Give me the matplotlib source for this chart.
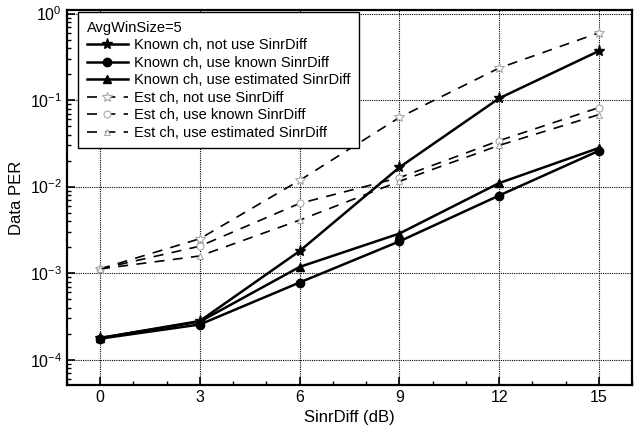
import matplotlib
matplotlib.use("Agg")
import matplotlib.pyplot as plt
from matplotlib.ticker import MultipleLocator, LogLocator, NullFormatter

plt.rcParams['font.family'] = ['Liberation Sans', 'DejaVu Sans']
plt.rcParams['mathtext.fontset'] = 'custom'
plt.rcParams['mathtext.rm'] = 'Liberation Sans'

sinr = [0, 3, 6, 9, 12, 15]
known_nouse = [1.78e-4, 2.8e-4, 1.8e-3, 1.67e-2, 0.105, 0.37]
known_known = [1.75e-4, 2.55e-4, 7.8e-4, 2.33e-3, 7.9e-3, 2.6e-2]
known_est = [1.78e-4, 2.75e-4, 1.18e-3, 2.87e-3, 1.1e-2, 2.8e-2]
est_nouse = [1.12e-3, 2.5e-3, 1.18e-2, 6.3e-2, 0.235, 0.6]
est_known = [1.12e-3, 2.05e-3, 6.4e-3, 1.27e-2, 3.4e-2, 8.2e-2]
est_est = [1.12e-3, 1.58e-3, 4.1e-3, 1.15e-2, 3.0e-2, 6.8e-2]
labels = ["Known ch, not use SinrDiff", "Known ch, use known SinrDiff",
          "Known ch, use estimated SinrDiff", "Est ch, not use SinrDiff",
          "Est ch, use known SinrDiff", "Est ch, use estimated SinrDiff"]
xticks = [0, 3, 6, 9, 12, 15]

fig = plt.figure(figsize=(6.36, 4.36), dpi=100)
ax = fig.add_axes([0.105, 0.117, 0.889, 0.860])

solid = dict(color='black', lw=1.8, ms=6, mfc='black', mec='black')
ax.plot(sinr, known_nouse, marker='*', label=labels[0], **{**solid, 'ms': 8})
ax.plot(sinr, known_known, marker='o', label=labels[1], **solid)
ax.plot(sinr, known_est, marker='^', label=labels[2], **solid)
dash = dict(color='black', lw=1.2, ls=(0, (6, 5)), ms=7, mfc='white', mec='#aaaaaa', mew=0.8)
ax.plot(sinr, est_nouse, marker='*', label=labels[3], **dash)
ax.plot(sinr, est_known, marker='o', label=labels[4], **{**dash, 'ms': 5})
ax.plot(sinr, est_est, marker='^', label=labels[5], **{**dash, 'ms': 5})

ax.set_yscale('log')
ax.set_xlim(-1, 16)
ax.set_ylim(5.1e-5, 1.1)
ax.set_xticks(xticks)
ax.xaxis.set_minor_locator(MultipleLocator(1))
ax.yaxis.set_minor_locator(LogLocator(base=10, subs=range(2, 10), numticks=20))
ax.yaxis.set_minor_formatter(NullFormatter())
ax.tick_params(which='both', direction='in', labelsize=11.5)
ax.tick_params(which='major', length=6, width=1.2)
ax.tick_params(which='minor', length=3, width=1)
for s in ax.spines.values():
    s.set_linewidth(1.6)
ax.grid(True, which='major', color='black', lw=0.8, ls=(0, (1, 1)))
ax.set_axisbelow(True)

ax.set_xlabel("SinrDiff (dB)", fontsize=12)
ax.set_ylabel("Data PER", fontsize=12)

leg = ax.legend(loc='upper left', bbox_to_anchor=(0.02, 0.995), borderaxespad=0,
                title="AvgWinSize=5", alignment='left', fontsize=10.5, title_fontsize=10.5,
                fancybox=False, framealpha=1, edgecolor='black', labelspacing=0.24,
                handlelength=2.8, handletextpad=0.45, borderpad=0.6)
leg.get_frame().set_linewidth(1.0)

fig.savefig("out.png", dpi=100)
